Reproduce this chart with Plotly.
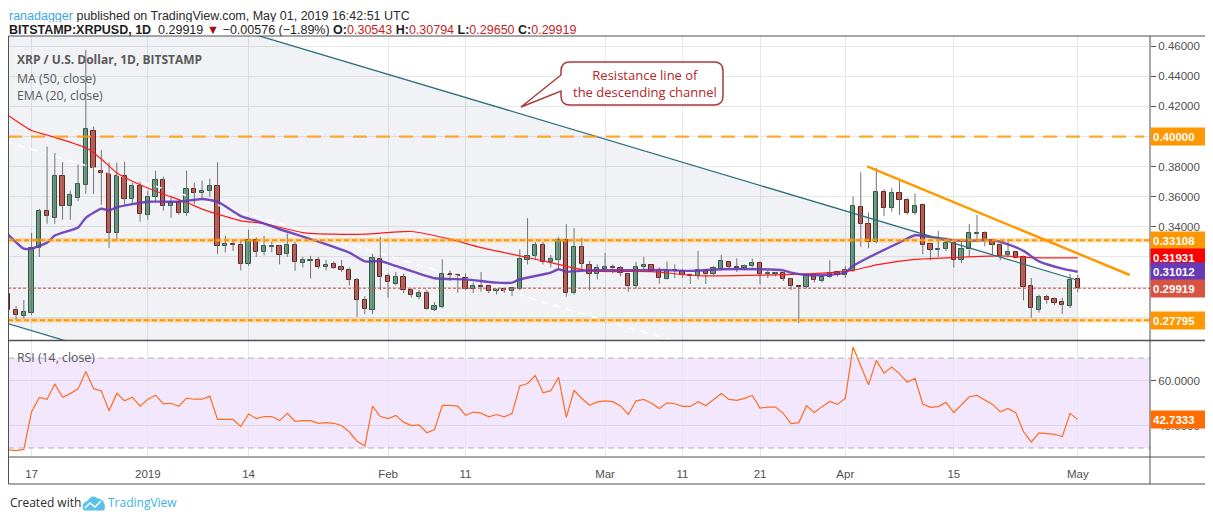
import plotly.graph_objects as go
import pandas as pd

# ---------------- data ----------------
start_date = "2018-12-14"
opens = [0.2953, 0.2847, 0.2807, 0.2827, 0.3260, 0.3507, 0.3460, 0.3740, 0.3540, 0.3593,
         0.3680, 0.4040, 0.3773, 0.3760, 0.3360, 0.3740, 0.3587, 0.3673, 0.3478, 0.3600,
         0.3711, 0.3538, 0.3562, 0.3491, 0.3651, 0.3622, 0.3640, 0.3673, 0.3271, 0.3286,
         0.3276, 0.3151, 0.3311, 0.3235, 0.3266, 0.3271, 0.3218, 0.3280, 0.3162, 0.3175,
         0.3178, 0.3135, 0.3151, 0.3133, 0.3111, 0.3044, 0.2911, 0.2849, 0.3184, 0.3073,
         0.3022, 0.3067, 0.2978, 0.2936, 0.2958, 0.2849, 0.2869, 0.3087, 0.3080, 0.3058,
         0.2984, 0.3004, 0.3004, 0.2971, 0.2987, 0.2971, 0.2989, 0.3182, 0.3209, 0.3278,
         0.3169, 0.3178, 0.3311, 0.2958, 0.3267, 0.3144, 0.3084, 0.3122, 0.3136, 0.3124,
         0.3084, 0.3004, 0.3131, 0.3144, 0.3104, 0.3051, 0.3111, 0.3104, 0.3080, 0.3076,
         0.3111, 0.3084, 0.3118, 0.3164, 0.3131, 0.3124, 0.3138, 0.3158, 0.3089, 0.3089,
         0.3093, 0.3051, 0.3004, 0.3002, 0.3078, 0.3038, 0.3064, 0.3098, 0.3078, 0.3107,
         0.3531, 0.3418, 0.3296, 0.3633, 0.3524, 0.3627, 0.3580, 0.3489, 0.3547, 0.3284,
         0.3249, 0.3251, 0.3291, 0.3178, 0.3251, 0.3355, 0.3358, 0.3311, 0.3278, 0.3211,
         0.3231, 0.3200, 0.3004, 0.2849, 0.2933, 0.2918, 0.2898, 0.2871, 0.30543]
highs = [0.2970, 0.2873, 0.2913, 0.3360, 0.3520, 0.3933, 0.3890, 0.3830, 0.3640, 0.3813,
         0.4575, 0.4067, 0.3910, 0.3827, 0.3827, 0.3833, 0.3693, 0.3700, 0.3640, 0.3773,
         0.3733, 0.3607, 0.3580, 0.3773, 0.3693, 0.3707, 0.3720, 0.3829, 0.3340, 0.3310,
         0.3310, 0.3380, 0.3330, 0.3340, 0.3300, 0.3280, 0.3356, 0.3300, 0.3200, 0.3207,
         0.3200, 0.3180, 0.3170, 0.3180, 0.3130, 0.3060, 0.2940, 0.3220, 0.3333, 0.3090,
         0.3100, 0.3090, 0.2990, 0.2980, 0.2980, 0.2900, 0.3184, 0.3110, 0.3090, 0.3090,
         0.3030, 0.3100, 0.3010, 0.2990, 0.2990, 0.3000, 0.3250, 0.3458, 0.3300, 0.3300,
         0.3213, 0.3333, 0.3418, 0.3391, 0.3327, 0.3173, 0.3150, 0.3227, 0.3150, 0.3140,
         0.3090, 0.3167, 0.3200, 0.3150, 0.3130, 0.3170, 0.3150, 0.3120, 0.3090, 0.3240,
         0.3120, 0.3140, 0.3213, 0.3170, 0.3190, 0.3150, 0.3189, 0.3170, 0.3110, 0.3100,
         0.3100, 0.3060, 0.3010, 0.3090, 0.3090, 0.3070, 0.3178, 0.3100, 0.3140, 0.3602,
         0.3762, 0.3495, 0.3792, 0.3650, 0.3658, 0.3707, 0.3590, 0.3622, 0.3550, 0.3290,
         0.3373, 0.3330, 0.3300, 0.3318, 0.3418, 0.3480, 0.3370, 0.3320, 0.3290, 0.3318,
         0.3240, 0.3210, 0.3060, 0.2950, 0.2950, 0.2930, 0.2929, 0.3087, 0.30794]
lows = [0.2793, 0.2780, 0.2790, 0.2813, 0.3200, 0.3420, 0.3420, 0.3447, 0.3447, 0.3570,
        0.3620, 0.3620, 0.3547, 0.3260, 0.3307, 0.3547, 0.3547, 0.3433, 0.3447, 0.3567,
        0.3507, 0.3460, 0.3480, 0.3473, 0.3550, 0.3580, 0.3600, 0.3220, 0.3230, 0.3240,
        0.3110, 0.3140, 0.3200, 0.3210, 0.3230, 0.3151, 0.3200, 0.3107, 0.3130, 0.3058,
        0.3120, 0.3110, 0.3120, 0.3100, 0.3010, 0.2802, 0.2820, 0.2820, 0.2980, 0.2929,
        0.3010, 0.2960, 0.2930, 0.2920, 0.2850, 0.2840, 0.2860, 0.3040, 0.2962, 0.2980,
        0.2960, 0.2970, 0.2960, 0.2950, 0.2960, 0.2940, 0.2980, 0.3150, 0.3180, 0.3150,
        0.3130, 0.3118, 0.2936, 0.2950, 0.3107, 0.2978, 0.3050, 0.3100, 0.3090, 0.3071,
        0.2969, 0.2990, 0.3100, 0.3100, 0.3022, 0.3050, 0.3060, 0.3060, 0.3020, 0.3050,
        0.3020, 0.3080, 0.3110, 0.3120, 0.3100, 0.3110, 0.3130, 0.3018, 0.3060, 0.3070,
        0.3040, 0.2980, 0.2760, 0.2990, 0.3030, 0.3030, 0.3060, 0.3070, 0.3060, 0.3100,
        0.3267, 0.3258, 0.3290, 0.3473, 0.3500, 0.3478, 0.3480, 0.3480, 0.3218, 0.3178,
        0.3200, 0.3240, 0.3129, 0.3160, 0.3200, 0.3300, 0.3270, 0.3220, 0.3178, 0.3200,
        0.3190, 0.2911, 0.2796, 0.2830, 0.2890, 0.2880, 0.2822, 0.2860, 0.29650]
closes = [0.2847, 0.2813, 0.2833, 0.3260, 0.3507, 0.3473, 0.3740, 0.3540, 0.3613, 0.3687,
          0.4047, 0.3793, 0.3760, 0.3360, 0.3740, 0.3587, 0.3673, 0.3487, 0.3600, 0.3711,
          0.3538, 0.3562, 0.3491, 0.3651, 0.3622, 0.3640, 0.3673, 0.3271, 0.3286, 0.3276,
          0.3151, 0.3311, 0.3235, 0.3273, 0.3271, 0.3211, 0.3280, 0.3169, 0.3178, 0.3180,
          0.3135, 0.3144, 0.3129, 0.3111, 0.3044, 0.2916, 0.2851, 0.3191, 0.3069, 0.3036,
          0.3067, 0.2978, 0.2944, 0.2958, 0.2851, 0.2871, 0.3087, 0.3080, 0.3069, 0.2984,
          0.3004, 0.3002, 0.2971, 0.2984, 0.2971, 0.2991, 0.3187, 0.3204, 0.3278, 0.3169,
          0.3184, 0.3311, 0.2958, 0.3267, 0.3151, 0.3084, 0.3124, 0.3136, 0.3129, 0.3091,
          0.3004, 0.3131, 0.3144, 0.3104, 0.3058, 0.3109, 0.3104, 0.3078, 0.3076, 0.3111,
          0.3084, 0.3124, 0.3171, 0.3131, 0.3124, 0.3138, 0.3158, 0.3084, 0.3093, 0.3091,
          0.3056, 0.3004, 0.3002, 0.3080, 0.3044, 0.3064, 0.3093, 0.3078, 0.3111, 0.3540,
          0.3418, 0.3296, 0.3633, 0.3524, 0.3627, 0.3578, 0.3489, 0.3538, 0.3276, 0.3244,
          0.3252, 0.3291, 0.3178, 0.3251, 0.3358, 0.3360, 0.3309, 0.3278, 0.3207, 0.3231,
          0.3196, 0.3002, 0.2858, 0.2933, 0.2911, 0.2896, 0.2878, 0.3047, 0.29919]

rsi_values = [29.2, 28.8, 29.4, 46.2, 52.5, 51.7, 58.5, 52.6, 54.2, 56.3,
              64.0, 56.4, 55.4, 46.6, 54.3, 51.0, 52.6, 48.6, 51.7, 53.5,
              49.6, 49.9, 48.6, 52.2, 51.7, 51.7, 53.1, 42.7, 42.7, 42.7,
              39.5, 45.1, 43.1, 44.0, 44.0, 42.2, 45.4, 41.9, 42.2, 42.2,
              41.0, 41.3, 41.0, 40.0, 37.1, 33.0, 30.9, 48.6, 44.0, 43.1,
              44.5, 41.5, 40.0, 40.3, 36.8, 38.2, 49.0, 49.0, 48.6, 44.6,
              46.0, 45.5, 43.9, 44.9, 43.9, 45.4, 57.6, 58.7, 62.2, 54.6,
              55.5, 61.5, 43.6, 55.7, 52.0, 49.0, 50.5, 51.0, 50.6, 48.7,
              44.9, 51.0, 51.6, 49.9, 47.6, 50.1, 49.7, 48.5, 48.5, 50.6,
              48.8, 51.3, 54.2, 51.6, 51.2, 52.1, 53.4, 47.8, 48.2, 48.2,
              45.4, 40.9, 41.3, 48.8, 45.8, 48.4, 50.7, 49.4, 52.1, 74.9,
              66.3, 58.1, 69.0, 63.3, 66.0, 63.0, 59.3, 61.0, 49.6, 48.1,
              48.4, 50.3, 45.8, 49.1, 52.8, 53.4, 51.3, 49.4, 46.1, 47.6,
              45.7, 37.2, 32.7, 36.7, 36.4, 36.1, 35.1, 45.4, 42.7333]

ma50_dates = ["2018-12-14", "2018-12-17", "2018-12-19", "2018-12-24", "2018-12-26", "2018-12-28",
              "2018-12-31", "2019-01-03", "2019-01-06", "2019-01-08", "2019-01-10", "2019-01-13",
              "2019-01-16", "2019-01-21", "2019-01-25", "2019-01-29", "2019-02-04", "2019-02-09",
              "2019-02-13", "2019-02-18", "2019-02-22", "2019-02-27", "2019-03-07", "2019-03-13",
              "2019-03-25", "2019-03-30", "2019-04-02", "2019-04-05", "2019-04-10", "2019-04-15",
              "2019-04-21", "2019-04-25", "2019-05-01"]
ma50_values = [0.4140, 0.4040, 0.4010, 0.3925, 0.3851, 0.3758, 0.3680, 0.3618, 0.3562, 0.3518,
               0.3484, 0.3440, 0.3422, 0.3362, 0.3351, 0.3351, 0.3369, 0.3318, 0.3262, 0.3207,
               0.3162, 0.3107, 0.3102, 0.3075, 0.3084, 0.3096, 0.3111, 0.3147, 0.3184, 0.3196,
               0.3207, 0.3196, 0.31931]

ema20_dates = ["2018-12-14", "2018-12-16", "2018-12-17", "2018-12-19", "2018-12-20", "2018-12-23",
               "2018-12-24", "2018-12-26", "2018-12-27", "2018-12-28", "2018-12-30", "2019-01-01",
               "2019-01-03", "2019-01-05", "2019-01-08", "2019-01-10", "2019-01-13", "2019-01-15",
               "2019-01-18", "2019-01-23", "2019-01-27", "2019-01-29", "2019-01-31", "2019-02-02",
               "2019-02-07", "2019-02-11", "2019-02-15", "2019-02-17", "2019-02-18", "2019-02-22",
               "2019-02-23", "2019-02-24", "2019-02-27", "2019-03-03", "2019-03-08", "2019-03-12",
               "2019-03-16", "2019-03-21", "2019-03-24", "2019-03-25", "2019-03-27", "2019-03-30",
               "2019-04-01", "2019-04-02", "2019-04-04", "2019-04-08", "2019-04-10", "2019-04-12",
               "2019-04-15", "2019-04-17", "2019-04-20", "2019-04-22", "2019-04-24", "2019-04-26",
               "2019-04-29", "2019-05-01"]
ema20_values = [0.3347, 0.3255, 0.3255, 0.3295, 0.3342, 0.3396, 0.3460, 0.3520, 0.3509, 0.3530,
                0.3551, 0.3567, 0.3567, 0.3567, 0.3585, 0.3567, 0.3471, 0.3440, 0.3384, 0.3302,
                0.3229, 0.3170, 0.3173, 0.3140, 0.3058, 0.3051, 0.3029, 0.3029, 0.3051, 0.3096,
                0.3118, 0.3102, 0.3111, 0.3111, 0.3113, 0.3107, 0.3118, 0.3118, 0.3111, 0.3096,
                0.3080, 0.3082, 0.3095, 0.3140, 0.3196, 0.3296, 0.3344, 0.3333, 0.3311, 0.3307,
                0.3311, 0.3284, 0.3240, 0.3170, 0.3122, 0.31012]

x_tick_dates = ["2018-12-17", "2019-01-01", "2019-01-14", "2019-02-01", "2019-02-11", "2019-03-01",
                "2019-03-11", "2019-03-21", "2019-04-01", "2019-04-15", "2019-05-01"]
x_tick_labels = ["17", "2019", "14", "Feb", "11", "Mar", "11", "21", "Apr", "15", "May"]
price_ticks = [0.28, 0.30, 0.32, 0.34, 0.36, 0.38, 0.40, 0.42, 0.44, 0.46]
price_tick_labels = ["", "", "", "0.34000", "0.36000", "0.38000", "", "0.42000", "0.44000", "0.46000"]
rsi_ticks = [40, 60]
rsi_tick_labels = ["40.0000", "60.0000"]

level_resistance = 0.40
level_mid = 0.33108
level_support = 0.27795
last_close = 0.29919
ma50_last = 0.31931
ema20_last = 0.31012
rsi_last = 42.7333
rsi_upper, rsi_lower = 70, 30

channel_dates = ["2018-12-12", "2019-05-01"]
channel_top = [0.5197, 0.3045]
channel_width = 0.241
trend_dates = ["2019-04-03 20:00", "2019-05-07 17:00"]
trend_prices = [0.3802, 0.3080]

x_range = ["2018-12-13 23:00", "2019-05-10 07:40"]
price_range = [0.2648, 0.4668]
rsi_range = [26.0, 77.6]

# ---------------- geometry (page pixels; the page adds an 8px body margin) ----------------
OFF = 8
FW, FH = 1213 - OFF, 521 - OFF
PX0, PX1, PY0, PY1 = 8, 1150, 36, 457          # plot area in page pixels
ML, MR = PX0 - OFF, FW - (PX1 - OFF)
MT, MB = PY0 - OFF, FH - (PY1 - OFF)
PW, PH = PX1 - PX0, PY1 - PY0


def fx(px):
    return (px - PX0) / PW


def fy(py):
    return 1 - (py - PY0) / PH


dates = pd.date_range(start_date, periods=len(opens), freq="D")

UP_FILL, UP_LINE = "#6ba583", "#225437"
DN_FILL, DN_LINE = "#d75442", "#5b1a13"
WICK = "#737375"
ORANGE = "#ff9800"
GRID = "#e6e7ea"
TEAL = "#2f6f7a"
FONT = "Open Sans"

fig = go.Figure()

# descending channel fill + lines
ch_low = [v - channel_width for v in channel_top]
ch_mid = [v - channel_width / 2 for v in channel_top]
fig.add_trace(go.Scatter(
    x=[channel_dates[0], channel_dates[1], channel_dates[1], channel_dates[0]],
    y=[channel_top[0], channel_top[1], ch_low[1], ch_low[0]],
    fill="toself", fillcolor="rgba(120,130,160,0.10)", line=dict(width=0),
    mode="lines", hoverinfo="skip", xaxis="x", yaxis="y"))
fig.add_trace(go.Scatter(x=channel_dates, y=ch_mid, mode="lines",
                         line=dict(color="white", width=1.6, dash="7px,6px"),
                         hoverinfo="skip", xaxis="x", yaxis="y"))

# wicks
wx, wy = [], []
for d, h, l in zip(dates, highs, lows):
    wx += [d, d, None]
    wy += [l, h, None]
fig.add_trace(go.Scatter(x=wx, y=wy, mode="lines", line=dict(color=WICK, width=1),
                         hoverinfo="skip", xaxis="x", yaxis="y"))

# bodies
base = [min(o, c) for o, c in zip(opens, closes)]
height = [max(abs(c - o), 0.0002) for o, c in zip(opens, closes)]
fills = [UP_FILL if c >= o else DN_FILL for o, c in zip(opens, closes)]
edges = [UP_LINE if c >= o else DN_LINE for o, c in zip(opens, closes)]
fig.add_trace(go.Bar(x=dates, y=height, base=base, width=0.56 * 86400000,
                     marker=dict(color=fills, line=dict(color=edges, width=1)),
                     hoverinfo="skip", xaxis="x", yaxis="y"))

# moving averages
fig.add_trace(go.Scatter(x=ma50_dates, y=ma50_values, mode="lines",
                         line=dict(color="#ff1a1a", width=1.2, shape="spline", smoothing=0.6),
                         hoverinfo="skip", xaxis="x", yaxis="y"))
fig.add_trace(go.Scatter(x=ema20_dates, y=ema20_values, mode="lines",
                         line=dict(color="#673ab7", width=2.4, shape="spline", smoothing=0.5),
                         opacity=0.9, hoverinfo="skip", xaxis="x", yaxis="y"))

# channel borders and trend line
fig.add_trace(go.Scatter(x=channel_dates, y=channel_top, mode="lines",
                         line=dict(color=TEAL, width=1.3), hoverinfo="skip", xaxis="x", yaxis="y"))
fig.add_trace(go.Scatter(x=channel_dates, y=ch_low, mode="lines",
                         line=dict(color=TEAL, width=1.3), hoverinfo="skip", xaxis="x", yaxis="y"))
fig.add_trace(go.Scatter(x=trend_dates, y=trend_prices, mode="lines",
                         line=dict(color=ORANGE, width=2.5), hoverinfo="skip", xaxis="x", yaxis="y"))

# RSI
fig.add_trace(go.Scatter(x=dates, y=rsi_values, mode="lines",
                         line=dict(color="#ff6d1f", width=1.2),
                         hoverinfo="skip", xaxis="x2", yaxis="y2"))

shapes = []
# RSI band
shapes.append(dict(type="rect", xref="paper", yref="y2", x0=0, x1=1, y0=rsi_lower, y1=rsi_upper,
                   fillcolor="#f3e7fd", line=dict(width=0), layer="below"))
for lv in (rsi_lower, rsi_upper):
    shapes.append(dict(type="line", xref="paper", yref="y2", x0=0, x1=1, y0=lv, y1=lv,
                       line=dict(color="#b7adc0", width=1, dash="6px,4px")))
# horizontal levels
shapes.append(dict(type="line", xref="paper", yref="y", x0=0, x1=0.995, y0=level_resistance,
                   y1=level_resistance, line=dict(color="rgba(255,152,0,0.8)", width=2.2, dash="14px,9px")))
for lv in (level_mid, level_support):
    shapes.append(dict(type="line", xref="paper", yref="y", x0=0, x1=1, y0=lv, y1=lv,
                       line=dict(color="rgba(255,152,0,0.30)", width=4.5)))
    shapes.append(dict(type="line", xref="paper", yref="y", x0=0, x1=1, y0=lv, y1=lv,
                       line=dict(color=ORANGE, width=2, dash="5px,3px")))
shapes.append(dict(type="line", xref="paper", yref="y", x0=0, x1=1, y0=last_close, y1=last_close,
                   line=dict(color="#e8413b", width=1, dash="3px,2px")))

# frame lines
FR = "#505050"
shapes.append(dict(type="rect", xref="paper", yref="paper", x0=fx(8.5), x1=fx(1207), y0=fy(484), y1=fy(36),
                   line=dict(color=FR, width=1)))
shapes.append(dict(type="line", xref="paper", yref="paper", x0=fx(8), x1=fx(1207), y0=fy(340.5), y1=fy(340.5),
                   line=dict(color=FR, width=1.5)))
shapes.append(dict(type="line", xref="paper", yref="paper", x0=fx(8), x1=fx(1207), y0=fy(457), y1=fy(457),
                   line=dict(color=FR, width=1)))
shapes.append(dict(type="line", xref="paper", yref="paper", x0=fx(1150), x1=fx(1150), y0=fy(484), y1=fy(36),
                   line=dict(color=FR, width=1)))


# callout bubble
def callout_path(x0, y0, x1, y1, r, t1, t2, tip):
    pts = []
    pts.append(f"M{fx(x0 + r)},{fy(y0)}")
    pts.append(f"L{fx(x1 - r)},{fy(y0)}")
    pts.append(f"Q{fx(x1)},{fy(y0)} {fx(x1)},{fy(y0 + r)}")
    pts.append(f"L{fx(x1)},{fy(y1 - r)}")
    pts.append(f"Q{fx(x1)},{fy(y1)} {fx(x1 - r)},{fy(y1)}")
    pts.append(f"L{fx(x0 + r)},{fy(y1)}")
    pts.append(f"Q{fx(x0)},{fy(y1)} {fx(x0)},{fy(y1 - r)}")
    pts.append(f"L{fx(x0)},{fy(t2)}")
    pts.append(f"L{fx(tip[0])},{fy(tip[1])}")
    pts.append(f"L{fx(x0)},{fy(t1)}")
    pts.append(f"L{fx(x0)},{fy(y0 + r)}")
    pts.append(f"Q{fx(x0)},{fy(y0)} {fx(x0 + r)},{fy(y0)} Z")
    return " ".join(pts)


shapes.append(dict(type="path", xref="paper", yref="paper",
                   path=callout_path(561, 62, 723, 105, 9, 75, 91, (521, 107)),
                   fillcolor="white", line=dict(color="#a93a3a", width=1.5)))

# TradingView logo (footer): small cloud with a zigzag
shapes.append(dict(type="path", xref="paper", yref="paper",
                   path=(f"M{fx(84)},{fy(510)} Q{fx(81)},{fy(503)} {fx(88)},{fy(501)} "
                         f"Q{fx(92)},{fy(494)} {fx(98)},{fy(499)} Q{fx(106)},{fy(500)} {fx(104)},{fy(510)} Z"),
                   fillcolor="#5cc0ea", line=dict(color="#5cc0ea", width=1)))
shapes.append(dict(type="path", xref="paper", yref="paper",
                   path=f"M{fx(85)},{fy(508)} L{fx(90)},{fy(503)} L{fx(95)},{fy(507)} L{fx(101)},{fy(501)}",
                   line=dict(color="white", width=1.5)))

ann = []


def txt(x, y, text, size=12, color="#333", anchor="left", family=FONT, h=None, pad=1):
    d = dict(xref="paper", yref="paper", x=fx(x), y=fy(y), text=text, showarrow=False,
             xanchor=anchor, yanchor="middle", borderpad=pad,
             font=dict(family=family, size=size, color=color))
    if h:
        d["height"] = h
    ann.append(d)


HDR = "Liberation Sans"
txt(8, 15.3, "<span style='color:#3ea6e3'>ranadagger</span> published on TradingView.com, May 01, 2019 16:42:51 UTC",
    size=12.5, color="#2a2a2a", family=HDR, h=13, pad=0)
RED = "#c41f1f"
txt(8, 29.8, "<b>BITSTAMP:XRPUSD, 1D</b>&nbsp; 0.29919 <span style='color:#a01010'>▼</span> −0.00576 (−1.89%) "
             f"<b>O:</b><span style='color:{RED}'>0.30543</span> <b>H:</b><span style='color:{RED}'>0.30794</span> "
             f"<b>L:</b><span style='color:{RED}'>0.29650</span> <b>C:</b><span style='color:{RED}'>0.29919</span>",
    size=12.5, color="#1e1e1e", family=HDR, h=13, pad=0)
txt(15, 60, "<b>XRP / U.S. Dollar, 1D, BITSTAMP</b>", size=12, color="#5a5a5a")
txt(15, 78, "MA (50, close)", size=12.3, color="#5a5a5a")
txt(15, 95, "EMA (20, close)", size=12.3, color="#5a5a5a")
txt(15, 357, "RSI (14, close)", size=12.3, color="#5a5a5a")
txt(571, 83, "Resistance line of<br>the descending channel", size=13, color="#b3261e")
txt(8, 503, "Created with", size=12, color="#2a2a2a")
txt(106, 503, "TradingView", size=12, color="#3bb3e4")

# price labels on the axis
for val, col, ref in [(level_resistance, ORANGE, "y"), (level_mid, ORANGE, "y"), (ma50_last, "#ff0000", "y"),
                      (ema20_last, "#673ab7", "y"), (last_close, "#d75442", "y"), (level_support, ORANGE, "y"),
                      (rsi_last, "#ff6d00", "y2")]:
    label = f"{val:.4f}" if ref == "y2" else f"{val:.5f}"
    ann.append(dict(xref="paper", yref=ref, x=1.0, y=val, text=f"<b>{label}</b>", showarrow=False,
                    xanchor="left", yanchor="middle", bgcolor=col, width=52, height=13, borderpad=2,
                    align="left", font=dict(family="Liberation Sans", size=11.5, color="white")))

axis_font = dict(family="Liberation Sans", size=11.5, color="#4f4f4f")

fig.update_layout(
    width=FW, height=FH,
    margin=dict(l=ML, r=MR, t=MT, b=MB, pad=0),
    paper_bgcolor="white", plot_bgcolor="white",
    showlegend=False, bargap=0,
    xaxis=dict(domain=[0, 1], anchor="y", type="date", range=x_range, tickvals=x_tick_dates,
               showticklabels=False, showgrid=True, gridcolor=GRID, zeroline=False, showline=False,
               ticks=""),
    xaxis2=dict(domain=[0, 1], anchor="y2", type="date", range=x_range, matches="x",
                tickvals=x_tick_dates, ticktext=x_tick_labels, showgrid=True, gridcolor=GRID,
                zeroline=False, showline=False, ticks="outside", ticklen=6,
                tickcolor="rgba(0,0,0,0)", tickfont=axis_font),
    yaxis=dict(domain=[fy(340), 1], anchor="x", side="right", range=price_range, tickvals=price_ticks,
               ticktext=price_tick_labels, showgrid=True, gridcolor=GRID, zeroline=False,
               ticks="outside", ticklen=5, tickcolor="#555", tickfont=axis_font, showline=False),
    yaxis2=dict(domain=[0, fy(341)], anchor="x2", side="right", range=rsi_range, tickvals=rsi_ticks,
                ticktext=rsi_tick_labels, showgrid=True, gridcolor="#ddd3e8", zeroline=False,
                ticks="outside", ticklen=5, tickcolor="#555", tickfont=axis_font, showline=False),
    shapes=shapes,
    annotations=ann,
)

fig.write_html("out.html")
